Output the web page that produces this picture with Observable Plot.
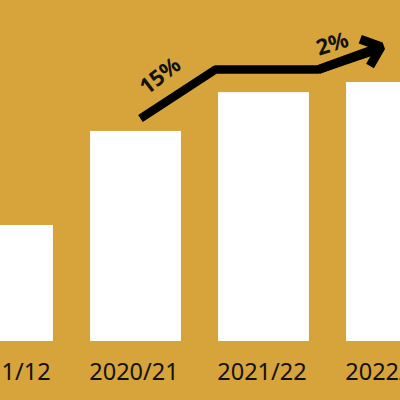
<!DOCTYPE html>
<html><head><meta charset="utf-8">
<script src="https://cdn.jsdelivr.net/npm/d3@7"></script>
<script src="https://cdn.jsdelivr.net/npm/@observablehq/plot@0.6"></script>
<style>
html,body{margin:0;padding:0;background:#D6A43A;}
#c svg{display:block;}
</style></head>
<body><div id="c"></div>
<script>
const categories = ["2011/12", "2020/21", "2021/22", "2022/23"];
const values = [44.8, 81.1, 96.1, 100];
// growth arrow path (category index, value units)
const arrowX = [1.035, 1.621, 2.426, 2.915];
const arrowY = [86.1, 105.0, 105.0, 113.8];
const growthLabels = ["15%", "2%"];
const growthLabelX = [1.19, 2.535];
const growthLabelY = [102.5, 114.8];
const growthLabelAngle = [-38, -17];

const bars = categories.map((c, i) => ({i, c, v: values[i]}));
const path = arrowX.map((x, k) => ({x, y: arrowY[k]}));
const labels = growthLabels.map((t, k) => ({t, x: growthLabelX[k], y: growthLabelY[k], a: growthLabelAngle[k]}));
const n = path.length;

const chart = Plot.plot({
  width: 400, height: 400,
  marginTop: 0, marginBottom: 59, marginLeft: 0, marginRight: 0,
  style: {background: "#D6A43A", fontFamily: "Noto Sans, sans-serif", color: "#111"},
  x: {type: "linear", domain: [-0.0586, 3.0664], axis: null},
  y: {domain: [0, 131.66], axis: null},
  marks: [
    Plot.rectY(bars, {x1: d => d.i - 0.355, x2: d => d.i + 0.355, y: "v", fill: "white"}),
    Plot.text(bars, {x: "i", y: 0, text: "c", dy: 22, dx: -2, fontSize: 23.5, fill: "#111", lineAnchor: "top", letterSpacing: "-1px"}),
    Plot.line(path.slice(0, n - 1).concat([{x: path[n-1].x - 0.05, y: path[n-1].y - 1.4}]), {x: "x", y: "y", stroke: "black", strokeWidth: 8.5, strokeLinejoin: "miter", strokeLinecap: "butt", curve: "linear"}),
    Plot.arrow([{x1: path[n-2].x, y1: path[n-2].y, x2: path[n-1].x, y2: path[n-1].y}], {x1: "x1", y1: "y1", x2: "x2", y2: "y2", stroke: "black", strokeWidth: 9, headLength: 24, headAngle: 80, strokeLinejoin: "miter", strokeLinecap: "butt"}),
    Plot.text(labels, {x: "x", y: "y", text: "t", rotate: "a", fontSize: 22, fontWeight: 700, fill: "#111"})
  ]
});
document.getElementById("c").appendChild(chart);
</script></body></html>
